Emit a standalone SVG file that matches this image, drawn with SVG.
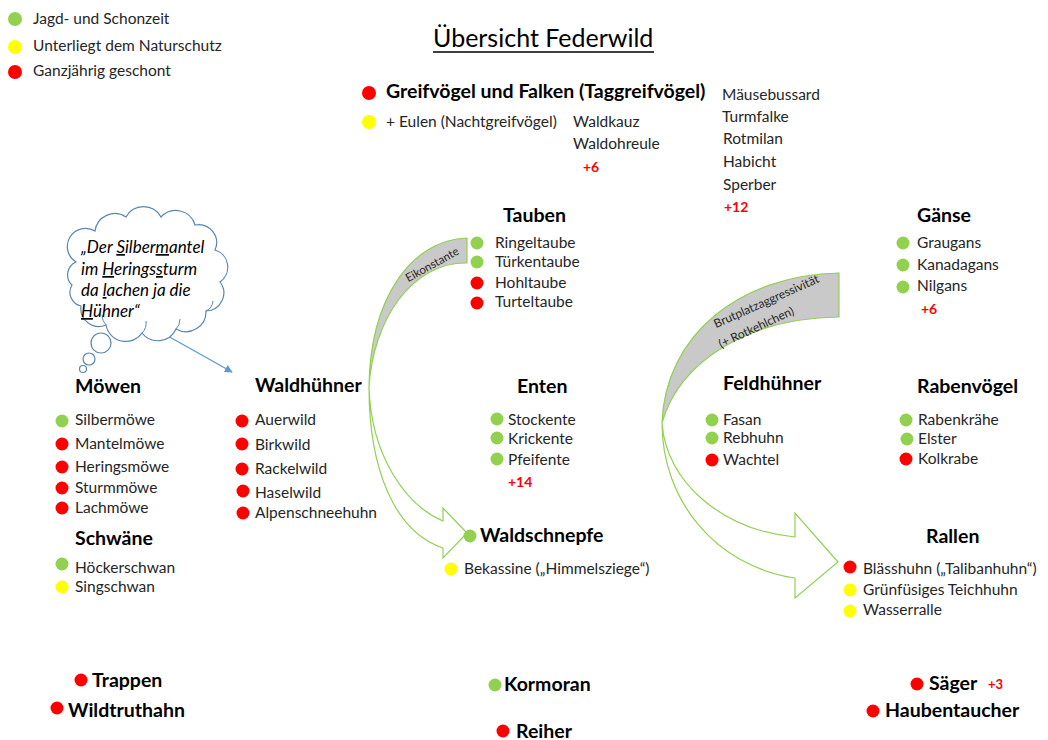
<svg xmlns="http://www.w3.org/2000/svg" width="1048" height="740" viewBox="0 0 1048 740">
<defs>
<style>
text{font-family:Lato,"Liberation Sans",sans-serif;fill:#262626}
.t{font-size:15.5px}
.h{font-size:19.5px;font-weight:bold;fill:#000}
.p{font-size:14px;font-weight:bold;fill:#ff0000}
.g{fill:#92d050}.y{fill:#ffff00}.r{fill:#ff0000}
.band{fill:#c9c9c9;stroke:#92d050;stroke-width:1.2}
.front{fill:#fff;stroke:#92d050;stroke-width:1.2}
.bt{font-size:11.5px;fill:#262626}
.cl{font-size:17px;font-style:italic;fill:#000}
.u{text-decoration:underline}
</style>
<marker id="ah" viewBox="0 0 10 10" refX="9" refY="5" markerWidth="8" markerHeight="8" orient="auto" markerUnits="userSpaceOnUse"><path d="M0,0 L10,5 L0,10 Z" fill="#5b9bd5"/></marker>
</defs>
<rect width="1048" height="740" fill="#fff"/>

<g id="legend">
<circle class="g" cx="15" cy="19" r="7"/><text class="t" x="33" y="24">Jagd- und Schonzeit</text>
<circle class="y" cx="15" cy="47" r="7"/><text class="t" x="33" y="51">Unterliegt dem Naturschutz</text>
<circle class="r" cx="15" cy="72" r="7"/><text class="t" x="33" y="76">Ganzjährig geschont</text>
</g>

<g id="title">
<text x="433" y="47" style="font-size:25px;fill:#000">Übersicht Federwild</text>
<line x1="433" y1="52" x2="654" y2="52" stroke="#000" stroke-width="1.3"/>
</g>

<g id="connectors">
<path class="band" d="M467,238 C410,240 370,300 369,387 C373,320 412,262 467,263 Z"/>
<path class="front" d="M369,387 C371,455 405,505 443,521 L443,508 L467,533 L443,558 L443,548 C395,532 369,470 369,387 Z"/>
<text class="bt" transform="translate(434,268) rotate(-29)" text-anchor="middle">Eikonstante</text>
<path class="band" d="M839,273 C740,275 665,335 662,423 C680,360 750,318 839,317 Z"/>
<path class="front" d="M662,423 C666,482 722,530 795,537 L795,513 L838,562 L795,598 L795,578 C715,566 662,500 662,423 Z"/>
<text class="bt" transform="translate(768,305) rotate(-24)" text-anchor="middle" style="font-size:12px">Brutplatzaggressivität</text>
<text class="bt" transform="translate(758,331) rotate(-25)" text-anchor="middle" style="font-size:12px">(+ Rotkehlchen)</text>
<line x1="150" y1="326" x2="232" y2="372" stroke="#5b9bd5" stroke-width="1.3" marker-end="url(#ah)"/>
</g>

<g id="cloud">
<path d="M76,262 A18,18 0 0 1 95,231 A20,20 0 0 1 126,217 A20,20 0 0 1 161,217 A20,20 0 0 1 195,225 A18,18 0 0 1 215,250 A18,18 0 0 1 220,282 A18,18 0 0 1 206,311 A20,20 0 0 1 176,329 A20,20 0 0 1 142,333 A20,20 0 0 1 106,325 A18,18 0 0 1 81,306 A14,14 0 0 1 72,285 A14,14 0 0 1 76,262 Z" fill="#fff" stroke="#5a86b0" stroke-width="1.2"/>
<path d="M106,325 A14,14 0 0 1 102,315 M142,333 A14,14 0 0 0 146,321 M176,329 A14,14 0 0 0 180,319 M206,311 A12,12 0 0 0 213,301" fill="none" stroke="#5a86b0" stroke-width="1"/>
<circle cx="101" cy="343" r="10" fill="#fff" stroke="#5a86b0" stroke-width="1.2"/>
<circle cx="89" cy="359" r="6" fill="#fff" stroke="#5a86b0" stroke-width="1.2"/>
<circle cx="83" cy="369" r="3.5" fill="#fff" stroke="#5a86b0" stroke-width="1.2"/>
<text class="cl" x="81" y="253">„Der <tspan class="u">S</tspan>ilber<tspan class="u">m</tspan>antel</text>
<text class="cl" x="81" y="275">im <tspan class="u">H</tspan>erings<tspan class="u">s</tspan>turm</text>
<text class="cl" x="81" y="296">da <tspan class="u">l</tspan>achen ja die</text>
<text class="cl" x="81" y="317"><tspan class="u">H</tspan>ühner“</text>
</g>

<g id="greifvoegel">
<circle class="r" cx="369" cy="93" r="7"/>
<text class="h" x="386" y="98">Greifvögel und Falken (Taggreifvögel)</text>
<circle class="y" cx="369" cy="122" r="7"/>
<text class="t" x="386" y="127">+ Eulen (Nachtgreifvögel)</text>
<text class="t" x="573" y="127">Waldkauz</text>
<text class="t" x="573" y="149">Waldohreule</text>
<text class="p" x="583" y="172">+6</text>
<text class="t" x="722" y="100">Mäusebussard</text>
<text class="t" x="722" y="122">Turmfalke</text>
<text class="t" x="723" y="144">Rotmilan</text>
<text class="t" x="723" y="167">Habicht</text>
<text class="t" x="723" y="190">Sperber</text>
<text class="p" x="724" y="212">+12</text>
</g>

<g id="tauben">
<text class="h" x="503" y="222">Tauben</text>
<circle class="g" cx="477" cy="243" r="6.5"/><text class="t" x="495" y="248">Ringeltaube</text>
<circle class="g" cx="477" cy="262" r="6.5"/><text class="t" x="495" y="267">Türkentaube</text>
<circle class="r" cx="477" cy="283" r="6.5"/><text class="t" x="495" y="288">Hohltaube</text>
<circle class="r" cx="477" cy="303" r="6.5"/><text class="t" x="495" y="307">Turteltaube</text>
</g>

<g id="gaense">
<text class="h" x="917" y="222">Gänse</text>
<circle class="g" cx="903" cy="243" r="6.5"/><text class="t" x="917" y="248">Graugans</text>
<circle class="g" cx="903" cy="265" r="6.5"/><text class="t" x="917" y="270">Kanadagans</text>
<circle class="g" cx="903" cy="287" r="6.5"/><text class="t" x="917" y="291">Nilgans</text>
<text class="p" x="921" y="314">+6</text>
</g>

<g id="moewen">
<text class="h" x="75" y="393">Möwen</text>
<circle class="g" cx="62" cy="421" r="6.5"/><text class="t" x="75" y="425">Silbermöwe</text>
<circle class="r" cx="62" cy="444" r="6.5"/><text class="t" x="75" y="449">Mantelmöwe</text>
<circle class="r" cx="62" cy="467" r="6.5"/><text class="t" x="75" y="472">Heringsmöwe</text>
<circle class="r" cx="62" cy="488" r="6.5"/><text class="t" x="75" y="493">Sturmmöwe</text>
<circle class="r" cx="62" cy="508" r="6.5"/><text class="t" x="75" y="513">Lachmöwe</text>
</g>

<g id="schwaene">
<text class="h" x="75" y="545">Schwäne</text>
<circle class="g" cx="62" cy="564" r="6.5"/><text class="t" x="75" y="573">Höckerschwan</text>
<circle class="y" cx="62" cy="587" r="6.5"/><text class="t" x="75" y="592">Singschwan</text>
</g>

<g id="waldhuehner">
<text class="h" x="255" y="392">Waldhühner</text>
<circle class="r" cx="242" cy="421" r="6.5"/><text class="t" x="255" y="425">Auerwild</text>
<circle class="r" cx="242" cy="444" r="6.5"/><text class="t" x="255" y="450">Birkwild</text>
<circle class="r" cx="242" cy="469" r="6.5"/><text class="t" x="255" y="474">Rackelwild</text>
<circle class="r" cx="243" cy="491" r="6.5"/><text class="t" x="255" y="498">Haselwild</text>
<circle class="r" cx="243" cy="513" r="6.5"/><text class="t" x="255" y="518">Alpenschneehuhn</text>
</g>

<g id="enten">
<text class="h" x="517" y="393">Enten</text>
<circle class="g" cx="497" cy="419" r="6.5"/><text class="t" x="508" y="425">Stockente</text>
<circle class="g" cx="497" cy="438" r="6.5"/><text class="t" x="508" y="444">Krickente</text>
<circle class="g" cx="497" cy="459" r="6.5"/><text class="t" x="508" y="465">Pfeifente</text>
<text class="p" x="508" y="487">+14</text>
</g>

<g id="waldschnepfe">
<circle class="g" cx="470" cy="536" r="6.5"/>
<text class="h" x="480" y="542">Waldschnepfe</text>
<circle class="y" cx="451" cy="569" r="6.5"/>
<text class="t" x="464" y="574">Bekassine („Himmelsziege“)</text>
</g>

<g id="feldhuehner">
<text class="h" x="723" y="390">Feldhühner</text>
<circle class="g" cx="712" cy="420" r="6.5"/><text class="t" x="723" y="425">Fasan</text>
<circle class="g" cx="712" cy="438" r="6.5"/><text class="t" x="723" y="443">Rebhuhn</text>
<circle class="r" cx="712" cy="460" r="6.5"/><text class="t" x="723" y="465">Wachtel</text>
</g>

<g id="rabenvoegel">
<text class="h" x="917" y="393">Rabenvögel</text>
<circle class="g" cx="906" cy="420" r="6.5"/><text class="t" x="918" y="425">Rabenkrähe</text>
<circle class="g" cx="907" cy="439" r="6.5"/><text class="t" x="918" y="444">Elster</text>
<circle class="r" cx="906" cy="459" r="6.5"/><text class="t" x="918" y="464">Kolkrabe</text>
</g>

<g id="rallen">
<text class="h" x="926" y="543">Rallen</text>
<circle class="r" cx="850" cy="567" r="6.5"/><text class="t" x="863" y="574">Blässhuhn („Talibanhuhn“)</text>
<circle class="y" cx="850" cy="590" r="6.5"/><text class="t" x="863" y="595">Grünfüsiges Teichhuhn</text>
<circle class="y" cx="850" cy="611" r="6.5"/><text class="t" x="863" y="615">Wasserralle</text>
</g>

<g id="trappen"><circle class="r" cx="81" cy="680" r="6.5"/><text class="h" x="92" y="687">Trappen</text></g>
<g id="wildtruthahn"><circle class="r" cx="57" cy="708" r="6.5"/><text class="h" x="68" y="717">Wildtruthahn</text></g>
<g id="kormoran"><circle class="g" cx="495" cy="685" r="6.5"/><text class="h" x="504" y="691">Kormoran</text></g>
<g id="reiher"><circle class="r" cx="503" cy="731" r="6.5"/><text class="h" x="516" y="738">Reiher</text></g>
<g id="saeger"><circle class="r" cx="917" cy="684" r="6.5"/><text class="h" x="929" y="690">Säger</text><text class="p" x="988" y="689" style="font-size:13px">+3</text></g>
<g id="haubentaucher"><circle class="r" cx="873" cy="711" r="6.5"/><text class="h" x="885" y="717">Haubentaucher</text></g>
</svg>
